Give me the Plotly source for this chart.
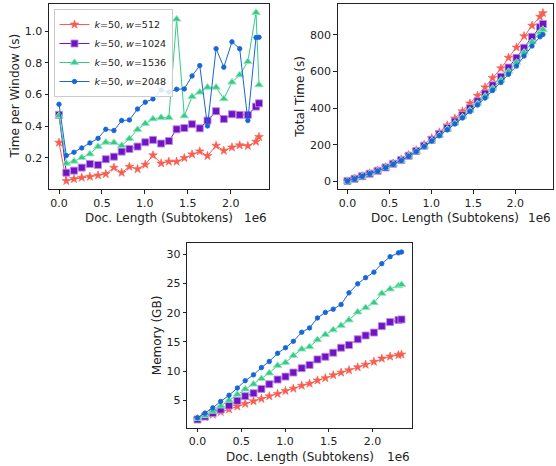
import plotly.graph_objects as go

# ---------------- data ----------------
doc_length = [0, 85000, 175000, 265000, 360000, 455000, 545000, 640000, 730000,
              820000, 915000, 1005000, 1095000, 1190000, 1280000, 1370000, 1460000,
              1550000, 1640000, 1730000, 1830000, 1920000, 2015000, 2105000,
              2200000, 2295000, 2330000]

series_names = ["<i>k</i>=50, <i>w</i>=512", "<i>k</i>=50, <i>w</i>=1024",
                "<i>k</i>=50, <i>w</i>=1536", "<i>k</i>=50, <i>w</i>=2048"]

time_w512 = [0.297, 0.055, 0.067, 0.076, 0.082, 0.090, 0.099, 0.139, 0.107, 0.145,
             0.130, 0.158, 0.217, 0.166, 0.177, 0.177, 0.200, 0.223, 0.242, 0.213,
             0.278, 0.246, 0.267, 0.280, 0.276, 0.303, 0.333]
time_w1024 = [0.472, 0.107, 0.120, 0.139, 0.162, 0.156, 0.192, 0.208, 0.240, 0.257,
              0.272, 0.299, 0.314, 0.291, 0.307, 0.381, 0.389, 0.413, 0.387, 0.436,
              0.495, 0.446, 0.476, 0.472, 0.472, 0.524, 0.545]
time_w1536 = [0.467, 0.166, 0.179, 0.202, 0.225, 0.272, 0.299, 0.297, 0.278, 0.322,
              0.379, 0.417, 0.446, 0.455, 0.455, 1.076, 0.465, 0.587, 0.615, 0.646,
              0.646, 0.573, 0.678, 0.724, 0.808, 1.118, 0.661]
time_w2048 = [0.539, 0.215, 0.236, 0.263, 0.295, 0.324, 0.381, 0.373, 0.436, 0.440,
              0.509, 0.552, 0.573, 0.629, 0.616, 0.634, 0.636, 0.718, 0.783, 0.402,
              0.890, 0.773, 0.933, 0.890, 0.436, 0.960, 0.962]

total_w512 = [0, 15, 29, 44, 60, 78, 98, 120, 144, 170, 200, 236, 268, 306, 344, 383,
              426, 468, 514, 565, 618, 676, 732, 794, 851, 900, 920]
total_w1024 = [2, 14, 28, 42, 58, 76, 96, 117, 140, 166, 195, 227, 258, 292, 327, 362,
               400, 438, 480, 525, 572, 622, 675, 730, 790, 843, 860]
total_w1536 = [0, 13, 27, 41, 57, 75, 94, 115, 138, 163, 191, 222, 252, 285, 318, 352,
               388, 425, 465, 508, 553, 600, 650, 705, 762, 815, 830]
total_w2048 = [1, 13, 27, 41, 56, 74, 93, 114, 137, 162, 190, 220, 249, 281, 313, 346,
               381, 417, 455, 496, 540, 585, 630, 685, 740, 790, 803]

mem_w512 = [1.8, 2.15, 2.55, 3.0, 3.45, 3.95, 4.4, 4.85, 5.25, 5.7, 6.1, 6.6, 7.0, 7.5,
            7.85, 8.4, 8.8, 9.3, 9.75, 10.15, 10.65, 11.1, 11.6, 12.15, 12.5, 12.75, 12.85]
mem_w1024 = [1.7, 2.2, 2.8, 3.4, 4.1, 4.9, 5.7, 6.2, 6.95, 7.75, 8.55, 9.05, 9.75, 10.5,
             11.05, 12.0, 12.45, 13.15, 14.0, 14.45, 15.45, 16.1, 16.6, 17.7, 18.4, 18.75, 18.85]
mem_w1536 = [1.85, 2.35, 3.1, 4.0, 5.0, 6.0, 6.9, 7.75, 8.7, 9.65, 10.95, 11.45, 12.65,
             13.75, 14.15, 15.35, 16.25, 17.05, 17.8, 18.75, 20.1, 20.85, 21.7, 23.3,
             24.05, 24.6, 24.8]
mem_w2048 = [2.0, 2.8, 3.7, 4.8, 5.85, 7.1, 8.35, 9.35, 10.6, 11.65, 13.05, 14.0, 15.1,
             16.65, 17.4, 19.1, 20.05, 20.6, 21.4, 23.4, 24.95, 26.0, 26.95, 28.4, 29.6,
             30.25, 30.4]

x_tickvals = [0, 500000, 1000000, 1500000, 2000000]
x_ticktext = ["0.0", "0.5", "1.0", "1.5", "2.0"]
y1_ticks = [0.2, 0.4, 0.6, 0.8, 1.0]
y1_text = ["0.2", "0.4", "0.6", "0.8", "1.0"]
y2_ticks = [0, 200, 400, 600, 800]
y3_ticks = [5, 10, 15, 20, 25, 30]

# ---------------- styling ----------------
W, H = 556, 466
FONT = "DejaVu Sans"
LABEL_SIZE = 12
TICK_SIZE = 11
styles = [
    dict(color="#F95D4F", symbol="star", size=6.5, edge="rgba(249,93,79,0.6)"),
    dict(color="#7213C3", symbol="square", size=7, edge="rgba(185,140,230,0.9)"),
    dict(color="#32CC86", symbol="triangle-up", size=7.5, edge="rgba(150,230,190,0.9)"),
    dict(color="#1766D8", symbol="circle", size=4.5, edge="rgba(23,102,216,0.8)"),
]

fig = go.Figure()

panels = [
    ("x", "y", [time_w512, time_w1024, time_w1536, time_w2048], True),
    ("x2", "y2", [total_w512, total_w1024, total_w1536, total_w2048], False),
    ("x3", "y3", [mem_w512, mem_w1024, mem_w1536, mem_w2048], False),
]

for xa, ya, ys, show in panels:
    for name, yv, st in zip(series_names, ys, styles):
        fig.add_trace(go.Scatter(
            x=doc_length, y=yv, xaxis=xa, yaxis=ya, name=name,
            mode="lines+markers", showlegend=show, legendgroup=name,
            line=dict(color=st["color"], width=1),
            marker=dict(symbol=st["symbol"], size=st["size"], color=st["color"],
                        line=dict(color=st["edge"], width=1)),
        ))

def px_x(p):
    return p / W

def px_y(p):
    return 1 - p / H

common_axis = dict(showline=True, linecolor="#222", linewidth=1, mirror=True,
                   ticks="outside", ticklen=3.5, tickcolor="#222", showgrid=False,
                   zeroline=False, tickfont=dict(family=FONT, size=TICK_SIZE, color="#222"))

xrange = [-116500, 2446500]

fig.update_layout(
    width=W, height=H, margin=dict(l=0, r=0, t=0, b=0),
    paper_bgcolor="white", plot_bgcolor="white",
    font=dict(family=FONT, size=LABEL_SIZE, color="#222"),
    xaxis=dict(domain=[px_x(49), px_x(269)], range=xrange, anchor="y",
               tickvals=x_tickvals, ticktext=x_ticktext, **common_axis),
    yaxis=dict(domain=[px_y(189), px_y(4)], range=[0.004, 1.172], anchor="x",
               tickvals=y1_ticks, ticktext=y1_text, **common_axis),
    xaxis2=dict(domain=[px_x(337.7), px_x(552.7)], range=xrange, anchor="y2",
                tickvals=x_tickvals, ticktext=x_ticktext, **common_axis),
    yaxis2=dict(domain=[px_y(189.3), px_y(4.3)], range=[-43.7, 967.8], anchor="x2",
                tickvals=y2_ticks, **common_axis),
    xaxis3=dict(domain=[px_x(187.3), px_x(411.7)], range=xrange, anchor="y3",
                tickvals=x_tickvals, ticktext=x_ticktext, **common_axis),
    yaxis3=dict(domain=[px_y(427.7), px_y(243.3)], range=[0.30, 31.89], anchor="x3",
                tickvals=y3_ticks, **common_axis),
    legend=dict(x=px_x(53.5), y=px_y(9), xanchor="left", yanchor="top",
                bgcolor="rgba(255,255,255,0.85)", bordercolor="#cccccc", borderwidth=1,
                font=dict(family=FONT, size=9.5, color="#222"), tracegroupgap=0,
                itemwidth=30),
)

XL_TOP = 218
XL_BOT = 457
annotations = [
    # x labels
    dict(text="Doc. Length (Subtokens)", x=px_x(159), y=px_y(XL_TOP)),
    dict(text="Doc. Length (Subtokens)", x=px_x(445), y=px_y(XL_TOP)),
    dict(text="Doc. Length (Subtokens)", x=px_x(299.5), y=px_y(XL_BOT)),
    # y labels
    dict(text="Time per Window (s)", x=px_x(14), y=px_y(96.5), textangle=-90),
    dict(text="Total Time (s)", x=px_x(300), y=px_y(96.8), textangle=-90),
    dict(text="Memory (GB)", x=px_x(156.7), y=px_y(335.5), textangle=-90),
]
for a in annotations:
    fig.add_annotation(xref="paper", yref="paper", showarrow=False,
                       xanchor="center", yanchor="middle",
                       font=dict(family=FONT, size=LABEL_SIZE, color="#222"), **a)

# offset texts
for xr, yc in [(269, XL_TOP), (552.7, XL_TOP), (411.7, XL_BOT)]:
    fig.add_annotation(text="1e6", xref="paper", yref="paper", showarrow=False,
                       x=px_x(xr), y=px_y(yc), xanchor="right", yanchor="middle",
                       font=dict(family=FONT, size=LABEL_SIZE, color="#222"))

fig.write_html("out.html",
               config={"displayModeBar": False},
               post_script="document.body.style.margin='0px';"
                           "document.body.style.overflow='hidden';")
